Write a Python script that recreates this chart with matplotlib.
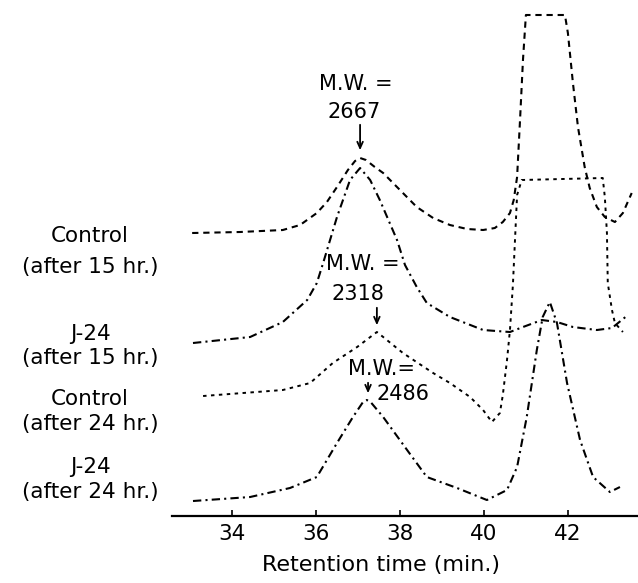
import matplotlib
matplotlib.use('Agg')
import matplotlib.pyplot as plt

plt.rcParams['font.family'] = 'DejaVu Sans'
plt.rcParams['lines.scale_dashes'] = False

# retention time (min) and detector response (stacked, arbitrary units)
ctrl15_t = [33.05, 34.19, 35.21, 35.62, 36.02, 36.26, 36.50, 36.76, 36.93, 37.05, 37.19, 37.40,
            37.60, 38.00, 38.40, 38.79, 39.19, 39.60, 39.98, 40.26, 40.45, 40.62, 40.71, 40.79,
            40.86, 40.93, 41.00, 41.45, 41.93, 42.00, 42.12, 42.24, 42.40, 42.52, 42.69, 42.88,
            43.12, 43.31, 43.52]
ctrl15_y = [28.3, 28.4, 28.6, 29.1, 30.3, 31.4, 32.9, 34.6, 35.5, 35.8, 35.6, 34.9,
            34.3, 32.6, 30.9, 29.8, 29.1, 28.7, 28.6, 28.8, 29.4, 30.3, 31.6, 33.9,
            39.6, 45.6, 50.1, 50.1, 50.1, 48.3, 43.3, 38.9, 34.9, 32.8, 30.9, 29.9,
            29.4, 30.3, 32.3]

j15_t = [33.07, 34.43, 35.21, 35.79, 36.02, 36.17, 36.50, 36.81, 37.05, 37.29, 37.52, 37.93,
         38.12, 38.40, 38.64, 39.19, 39.98, 40.62, 40.93, 41.38, 41.74, 42.12, 42.69, 43.05,
         43.40]
j15_y = [17.3, 17.9, 19.4, 21.6, 23.3, 25.3, 29.9, 33.6, 34.8, 33.6, 31.6, 27.6,
         25.1, 22.9, 21.3, 19.9, 18.6, 18.4, 18.9, 19.6, 19.4, 18.9, 18.6, 18.8,
         20.0]

ctrl24_t = [33.31, 35.21, 35.86, 36.40, 36.98, 37.45, 37.60, 38.07, 38.79, 39.19, 39.67, 39.98,
            40.19, 40.38, 40.45, 40.55, 40.62, 40.69, 40.74, 40.79, 40.90, 42.83, 42.88, 42.93,
            42.95, 43.05, 43.12, 43.31]
ctrl24_y = [12.0, 12.6, 13.3, 15.3, 16.9, 18.4, 17.9, 16.3, 14.3, 13.3, 11.9, 10.6,
            9.4, 10.3, 12.1, 15.6, 18.6, 23.1, 27.6, 32.1, 33.6, 33.8, 31.9, 28.3,
            23.3, 20.6, 19.3, 18.4]

j24_t = [33.07, 34.43, 35.38, 36.02, 36.50, 36.88, 37.12, 37.21, 37.30, 37.60, 38.17, 38.64,
         39.36, 40.07, 40.55, 40.79, 41.02, 41.26, 41.40, 41.57, 41.74, 41.98, 42.29, 42.60,
         43.00, 43.24]
j24_y = [1.5, 1.9, 2.8, 3.9, 7.3, 9.9, 11.4, 11.6, 11.4, 9.9, 6.6, 3.9,
         2.8, 1.6, 2.6, 4.9, 9.9, 16.6, 19.9, 21.4, 19.3, 13.3, 7.6, 3.9,
         2.4, 2.9]

xticks = [34, 36, 38, 40, 42]

fig = plt.figure(figsize=(6.38, 5.83), dpi=100)
ax = fig.add_axes([0.2696, 0.1149, 0.7304, 0.8851])

dash = (4.5, 3.5)
dot = (2.5, 3.2)
dashdot = (6, 3, 1.5, 3)
ax.plot(ctrl15_t, ctrl15_y, color='black', lw=1.5, dashes=dash)
ax.plot(j15_t, j15_y, color='black', lw=1.5, dashes=dashdot)
ax.plot(ctrl24_t, ctrl24_y, color='black', lw=1.4, dashes=dot)
ax.plot(j24_t, j24_y, color='black', lw=1.5, dashes=dashdot)

ax.set_xlim(32.57, 43.67)
ax.set_ylim(0, 51.6)
ax.set_xticks(xticks)
ax.tick_params(axis='x', direction='in', length=4, width=1.2, pad=6, labelsize=15.5)
ax.set_yticks([])
for pos in ['right', 'top', 'left']:
    ax.spines[pos].set_visible(False)
ax.spines['bottom'].set_linewidth(1.6)

ax.set_xlabel('Retention time (min.)', fontsize=16, va='top')
ax.xaxis.set_label_coords(0.448, -0.075)

# trace labels on the left
fs = 15.5
lx = 30.62
labels = [('Control', 27.4), ('(after 15 hr.)', 24.3),
          ('J-24', 17.6), ('(after 15 hr.)', 15.2),
          ('Control', 11.1), ('(after 24 hr.)', 8.6),
          ('J-24', 4.3), ('(after 24 hr.)', 1.8)]
for txt, yy in labels:
    ax.text(lx, yy, txt, ha='center', va='baseline', fontsize=fs, clip_on=False)

# molecular weight annotations
mfs = 15
ax.text(36.95, 42.6, 'M.W. =', ha='center', va='baseline', fontsize=mfs)
ax.text(36.9, 39.8, '2667', ha='center', va='baseline', fontsize=mfs)
ax.annotate('', xy=(37.05, 36.3), xytext=(37.05, 39.4),
            arrowprops=dict(arrowstyle='->,head_length=0.45,head_width=0.2', lw=1.3, color='black'))

ax.text(37.12, 24.6, 'M.W. =', ha='center', va='baseline', fontsize=mfs)
ax.text(37.0, 21.6, '2318', ha='center', va='baseline', fontsize=mfs)
ax.annotate('', xy=(37.45, 18.8), xytext=(37.45, 21.1),
            arrowprops=dict(arrowstyle='->,head_length=0.45,head_width=0.2', lw=1.3, color='black'))

ax.text(37.57, 14.1, 'M.W.=', ha='center', va='baseline', fontsize=mfs)
ax.text(37.45, 11.6, '2486', ha='left', va='baseline', fontsize=mfs)
ax.annotate('', xy=(37.24, 12.0), xytext=(37.24, 13.6),
            arrowprops=dict(arrowstyle='->,head_length=0.45,head_width=0.2', lw=1.3, color='black'))

fig.savefig('out.png', dpi=100, facecolor='white')
plt.close()
